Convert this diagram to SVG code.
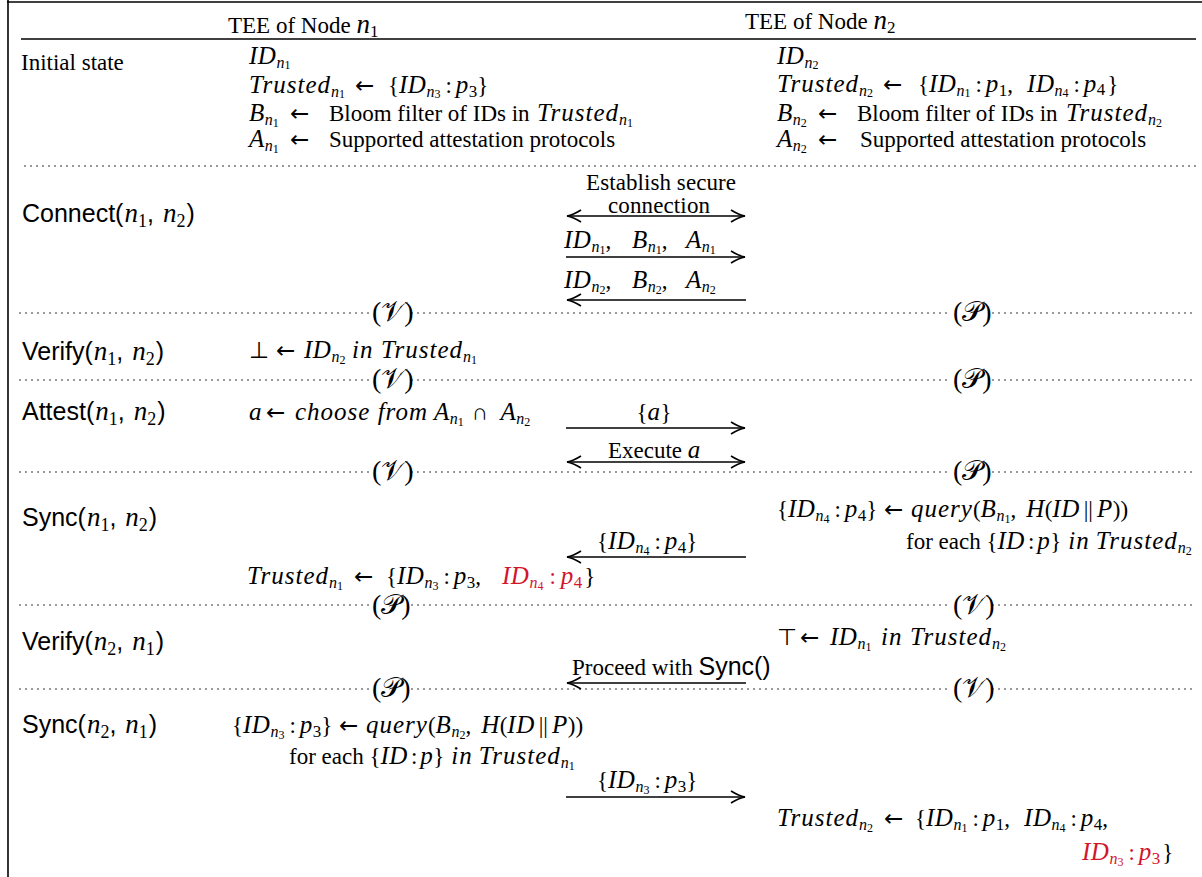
<svg xmlns="http://www.w3.org/2000/svg" width="1202" height="877" viewBox="0 0 1202 877">
<style>
.t{font-family:"Liberation Serif",serif;font-size:23px;fill:#000}
.i{font-style:italic;font-size:25px;letter-spacing:0.5px}
.w{font-style:italic;font-size:25px;letter-spacing:1px}
.si{font-style:italic;font-size:16px;letter-spacing:0}
.ss{font-size:12px;letter-spacing:0}
.d{font-size:17px;letter-spacing:0}
.ar2{font-family:"DejaVu Sans",sans-serif;font-size:23px}
.sf{font-family:"Liberation Sans",sans-serif;font-size:25px;fill:#000}
.mn{font-family:"Liberation Serif",serif;font-style:italic;font-size:27px}
.md{font-family:"Liberation Serif",serif;font-size:18px}
.red{fill:#d3142c}
.rule{stroke:#000;stroke-width:1.6;fill:none}
.dot{stroke:#000;stroke-width:1.5;stroke-dasharray:0 6;stroke-linecap:round;fill:none}
.ar{stroke:#000;stroke-width:1.6;fill:none}
.big{font-family:"Liberation Serif",serif;font-size:28px}
</style>
<defs>
<marker id="ah" markerUnits="userSpaceOnUse" markerWidth="20" markerHeight="20" viewBox="-16 -10 20 20" refX="0" refY="0" orient="auto-start-reverse">
<path d="M-14,-6 Q-6,-1 0,0 Q-6,1 -14,6" stroke="#000" stroke-width="1.6" fill="none"/>
</marker>
</defs>
<g id="frame">
<line class="rule" x1="7" y1="2" x2="1202" y2="2"/>
<line class="rule" x1="8" y1="0" x2="8" y2="877" stroke-width="2"/>
<line class="rule" x1="21" y1="39" x2="1196" y2="39"/>
</g>
<g id="header">
<text class="t" x="228" y="33">TEE of Node <tspan class="mn" font-size="26">n</tspan><tspan dy="4" font-size="17">1</tspan></text>
<text class="t" x="745" y="29">TEE of Node <tspan class="mn" font-size="26">n</tspan><tspan dy="4" font-size="17">2</tspan></text>
</g>
<g id="separators">
<line class="dot" x1="25" y1="166" x2="1196" y2="166"/>
<line class="dot" x1="20" y1="313" x2="370" y2="313"/><line class="dot" x1="412" y1="313" x2="951" y2="313"/><line class="dot" x1="993" y1="313" x2="1196" y2="313"/>
<line class="dot" x1="20" y1="380" x2="370" y2="380"/><line class="dot" x1="412" y1="380" x2="951" y2="380"/><line class="dot" x1="993" y1="380" x2="1196" y2="380"/>
<line class="dot" x1="20" y1="472" x2="370" y2="472"/><line class="dot" x1="412" y1="472" x2="951" y2="472"/><line class="dot" x1="993" y1="472" x2="1196" y2="472"/>
<line class="dot" x1="20" y1="605" x2="370" y2="605"/><line class="dot" x1="412" y1="605" x2="951" y2="605"/><line class="dot" x1="993" y1="605" x2="1196" y2="605"/>
<line class="dot" x1="20" y1="689" x2="370" y2="689"/><line class="dot" x1="412" y1="689" x2="951" y2="689"/><line class="dot" x1="993" y1="689" x2="1196" y2="689"/>
</g>
<g id="roles">
<text class="big" x="372" y="321">(𝒱)</text>
<text class="big" x="953" y="321">(𝒫)</text>
<text class="big" x="372" y="388">(𝒱)</text>
<text class="big" x="953" y="388">(𝒫)</text>
<text class="big" x="372" y="480">(𝒱)</text>
<text class="big" x="953" y="480">(𝒫)</text>
<text class="big" x="372" y="614">(𝒫)</text>
<text class="big" x="953" y="614">(𝒱)</text>
<text class="big" x="372" y="697">(𝒫)</text>
<text class="big" x="953" y="697">(𝒱)</text>
</g>
<g id="row-initial">
<text class="t" x="21" y="70" font-size="22">Initial state</text>
<text class="t" x="249" y="64"><tspan class="i">ID</tspan><tspan class="si" dy="4">n</tspan><tspan class="ss" dy="1">1</tspan></text>
<text class="t" x="249" y="93"><tspan class="w">Trusted</tspan><tspan class="si" dy="4">n</tspan><tspan class="ss" dy="1">1</tspan><tspan class="ar2" x="355" dy="-5">←</tspan><tspan x="388">{</tspan><tspan class="i">ID</tspan><tspan class="si" dy="4">n</tspan><tspan class="ss" dy="1">3</tspan><tspan dy="-5" dx="5">:</tspan><tspan class="i" dx="4">p</tspan><tspan class="d" dy="4">3</tspan><tspan dy="-4">}</tspan></text>
<text class="t" x="249" y="121"><tspan class="i">B</tspan><tspan class="si" dy="4">n</tspan><tspan class="ss" dy="2">1</tspan><tspan class="ar2" x="290" dy="-6">←</tspan><tspan x="329">Bloom filter of IDs in</tspan><tspan class="w" x="537">Trusted</tspan><tspan class="si" dy="4">n</tspan><tspan class="ss" dy="2">1</tspan></text>
<text class="t" x="249" y="147"><tspan class="i">A</tspan><tspan class="si" dy="4">n</tspan><tspan class="ss" dy="2">1</tspan><tspan class="ar2" x="290" dy="-6">←</tspan><tspan x="329">Supported attestation protocols</tspan></text>
<text class="t" x="777" y="64"><tspan class="i">ID</tspan><tspan class="si" dy="4">n</tspan><tspan class="ss" dy="1">2</tspan></text>
<text class="t" x="777" y="92"><tspan class="w">Trusted</tspan><tspan class="si" dy="4">n</tspan><tspan class="ss" dy="1">2</tspan><tspan class="ar2" x="883" dy="-5">←</tspan><tspan x="918">{</tspan><tspan class="i">ID</tspan><tspan class="si" dy="4">n</tspan><tspan class="ss" dy="1">1</tspan><tspan dy="-5" dx="5">:</tspan><tspan class="i" dx="4">p</tspan><tspan class="d" dy="4">1</tspan><tspan dy="-4">,</tspan><tspan class="i" dx="14">ID</tspan><tspan class="si" dy="4">n</tspan><tspan class="ss" dy="1">4</tspan><tspan dy="-5" dx="5">:</tspan><tspan class="i" dx="4">p</tspan><tspan class="d" dy="3">4</tspan><tspan dy="-3" dx="2">}</tspan></text>
<text class="t" x="777" y="121"><tspan class="i">B</tspan><tspan class="si" dy="4">n</tspan><tspan class="ss" dy="2">2</tspan><tspan class="ar2" x="818" dy="-6">←</tspan><tspan x="857">Bloom filter of IDs in</tspan><tspan class="w" x="1066">Trusted</tspan><tspan class="si" dy="4">n</tspan><tspan class="ss" dy="2">2</tspan></text>
<text class="t" x="777" y="147"><tspan class="i">A</tspan><tspan class="si" dy="4">n</tspan><tspan class="ss" dy="2">2</tspan><tspan class="ar2" x="818" dy="-6">←</tspan><tspan x="860">Supported attestation protocols</tspan></text>
</g>
<g id="row-connect">
<text class="sf" x="22" y="222">Connect(<tspan class="mn" dx="1">n</tspan><tspan class="md" dy="5">1</tspan><tspan dy="-5">,</tspan><tspan class="mn" dx="9">n</tspan><tspan class="md" dy="5">2</tspan><tspan dy="-5" dx="1">)</tspan></text>
<text class="t" x="661" y="190" text-anchor="middle" font-size="20" textLength="150">Establish secure</text>
<text class="t" x="659" y="213" text-anchor="middle" font-size="20" textLength="102">connection</text>
<text class="t" x="564" y="248"><tspan class="i">ID</tspan><tspan class="si" dy="4">n</tspan><tspan class="ss" dy="2">1</tspan><tspan dy="-6">,</tspan><tspan class="i" x="632">B</tspan><tspan class="si" dy="4">n</tspan><tspan class="ss" dy="2">1</tspan><tspan dy="-6">,</tspan><tspan class="i" x="686">A</tspan><tspan class="si" dy="4">n</tspan><tspan class="ss" dy="2">1</tspan></text>
<text class="t" x="564" y="288"><tspan class="i">ID</tspan><tspan class="si" dy="4">n</tspan><tspan class="ss" dy="2">2</tspan><tspan dy="-6">,</tspan><tspan class="i" x="632">B</tspan><tspan class="si" dy="4">n</tspan><tspan class="ss" dy="2">2</tspan><tspan dy="-6">,</tspan><tspan class="i" x="686">A</tspan><tspan class="si" dy="4">n</tspan><tspan class="ss" dy="2">2</tspan></text>
</g>
<g id="row-verify1">
<text class="sf" x="22" y="360">Verify(<tspan class="mn" dx="1">n</tspan><tspan class="md" dy="5">1</tspan><tspan dy="-5">,</tspan><tspan class="mn" dx="9">n</tspan><tspan class="md" dy="5">2</tspan><tspan dy="-5" dx="1">)</tspan></text>
<text class="t" x="249" y="358">⊥<tspan class="ar2" x="276">←</tspan><tspan class="i" x="304">ID</tspan><tspan class="si" dy="4">n</tspan><tspan class="ss" dy="2">2</tspan><tspan class="w" x="352" dy="-6">in</tspan><tspan class="w" x="381">Trusted</tspan><tspan class="si" dy="4">n</tspan><tspan class="ss" dy="2">1</tspan></text>
</g>
<g id="row-attest">
<text class="sf" x="22" y="420">Attest(<tspan class="mn" dx="1">n</tspan><tspan class="md" dy="5">1</tspan><tspan dy="-5">,</tspan><tspan class="mn" dx="9">n</tspan><tspan class="md" dy="5">2</tspan><tspan dy="-5" dx="1">)</tspan></text>
<text class="t" x="249" y="420"><tspan class="i">a</tspan><tspan class="ar2" x="266">←</tspan><tspan class="w" x="295">choose from</tspan><tspan class="i" dx="6">A</tspan><tspan class="si" dy="4">n</tspan><tspan class="ss" dy="2">1</tspan><tspan dx="8" dy="-6">∩</tspan><tspan class="i" dx="12">A</tspan><tspan class="si" dy="4">n</tspan><tspan class="ss" dy="2">2</tspan></text>
<text class="t" x="654" y="420" text-anchor="middle">{<tspan class="i">a</tspan>}</text>
<text class="t" x="608" y="458">Execute <tspan class="i">a</tspan></text>
</g>
<g id="row-sync1">
<text class="sf" x="22" y="526">Sync(<tspan class="mn" dx="1">n</tspan><tspan class="md" dy="5">1</tspan><tspan dy="-5">,</tspan><tspan class="mn" dx="9">n</tspan><tspan class="md" dy="5">2</tspan><tspan dy="-5" dx="1">)</tspan></text>
<text class="t" x="777" y="517">{<tspan class="i">ID</tspan><tspan class="si" dy="4">n</tspan><tspan class="ss" dy="2">4</tspan><tspan dy="-6" dx="5">:</tspan><tspan class="i" dx="4">p</tspan><tspan class="d" dy="4">4</tspan><tspan dy="-4">}</tspan><tspan class="ar2" x="884">←</tspan><tspan class="w" x="911">query</tspan>(<tspan class="i">B</tspan><tspan class="si" dy="4">n</tspan><tspan class="ss" dy="2">1</tspan><tspan dy="-6">,</tspan><tspan class="i" dx="10">H</tspan>(<tspan class="i">ID</tspan><tspan dx="4">||</tspan><tspan class="i" dx="4">P</tspan>))</text>
<text class="t" x="906" y="549">for each {<tspan class="i">ID</tspan><tspan dx="3">:</tspan><tspan class="i" dx="3">p</tspan>}<tspan class="w" dx="7">in</tspan><tspan class="w" dx="6">Trusted</tspan><tspan class="si" dy="4">n</tspan><tspan class="ss" dy="2">2</tspan></text>
<text class="t" x="597" y="549">{<tspan class="i">ID</tspan><tspan class="si" dy="4">n</tspan><tspan class="ss" dy="2">4</tspan><tspan dy="-6" dx="5">:</tspan><tspan class="i" dx="4">p</tspan><tspan class="d" dy="4">4</tspan><tspan dy="-4">}</tspan></text>
<text class="t" x="247" y="584"><tspan class="w">Trusted</tspan><tspan class="si" dy="4">n</tspan><tspan class="ss" dy="2">1</tspan><tspan class="ar2" x="354" dy="-6">←</tspan><tspan x="386">{</tspan><tspan class="i">ID</tspan><tspan class="si" dy="4">n</tspan><tspan class="ss" dy="2">3</tspan><tspan dy="-6" dx="5">:</tspan><tspan class="i" dx="4">p</tspan><tspan class="d" dy="4">3</tspan><tspan dy="-4">,</tspan><tspan class="i red" x="502">ID</tspan><tspan class="si red" dy="4">n</tspan><tspan class="ss red" dy="2">4</tspan><tspan class="red" dy="-6" dx="6">:</tspan><tspan class="i red" dx="5">p</tspan><tspan class="d red" dy="4">4</tspan><tspan dy="-4" dx="2">}</tspan></text>
</g>
<g id="row-verify2">
<text class="sf" x="22" y="650">Verify(<tspan class="mn" dx="1">n</tspan><tspan class="md" dy="5">2</tspan><tspan dy="-5">,</tspan><tspan class="mn" dx="9">n</tspan><tspan class="md" dy="5">1</tspan><tspan dy="-5" dx="1">)</tspan></text>
<text class="t" x="777" y="645">⊤<tspan class="ar2" x="800">←</tspan><tspan class="i" x="830">ID</tspan><tspan class="si" dy="4">n</tspan><tspan class="ss" dy="2">1</tspan><tspan class="w" x="881" dy="-6">in</tspan><tspan class="w" x="910">Trusted</tspan><tspan class="si" dy="4">n</tspan><tspan class="ss" dy="2">2</tspan></text>
<text class="t" x="572" y="675">Proceed with <tspan class="sf" font-size="24">Sync()</tspan></text>
</g>
<g id="row-sync2">
<text class="sf" x="22" y="733">Sync(<tspan class="mn" dx="1">n</tspan><tspan class="md" dy="5">2</tspan><tspan dy="-5">,</tspan><tspan class="mn" dx="9">n</tspan><tspan class="md" dy="5">1</tspan><tspan dy="-5" dx="1">)</tspan></text>
<text class="t" x="232" y="733">{<tspan class="i">ID</tspan><tspan class="si" dy="4">n</tspan><tspan class="ss" dy="2">3</tspan><tspan dy="-6" dx="5">:</tspan><tspan class="i" dx="4">p</tspan><tspan class="d" dy="4">3</tspan><tspan dy="-4">}</tspan><tspan class="ar2" x="339">←</tspan><tspan class="w" x="366">query</tspan>(<tspan class="i">B</tspan><tspan class="si" dy="4">n</tspan><tspan class="ss" dy="2">2</tspan><tspan dy="-6">,</tspan><tspan class="i" dx="10">H</tspan>(<tspan class="i">ID</tspan><tspan dx="4">||</tspan><tspan class="i" dx="4">P</tspan>))</text>
<text class="t" x="289" y="764">for each {<tspan class="i">ID</tspan><tspan dx="3">:</tspan><tspan class="i" dx="3">p</tspan>}<tspan class="w" dx="7">in</tspan><tspan class="w" dx="6">Trusted</tspan><tspan class="si" dy="4">n</tspan><tspan class="ss" dy="2">1</tspan></text>
<text class="t" x="597" y="788">{<tspan class="i">ID</tspan><tspan class="si" dy="4">n</tspan><tspan class="ss" dy="2">3</tspan><tspan dy="-6" dx="5">:</tspan><tspan class="i" dx="4">p</tspan><tspan class="d" dy="4">3</tspan><tspan dy="-4">}</tspan></text>
<text class="t" x="777" y="826"><tspan class="w">Trusted</tspan><tspan class="si" dy="4">n</tspan><tspan class="ss" dy="2">2</tspan><tspan class="ar2" x="884" dy="-6">←</tspan><tspan x="915">{</tspan><tspan class="i">ID</tspan><tspan class="si" dy="4">n</tspan><tspan class="ss" dy="2">1</tspan><tspan dy="-6" dx="5">:</tspan><tspan class="i" dx="4">p</tspan><tspan class="d" dy="4">1</tspan><tspan dy="-4">,</tspan><tspan class="i" dx="14">ID</tspan><tspan class="si" dy="4">n</tspan><tspan class="ss" dy="2">4</tspan><tspan dy="-6" dx="5">:</tspan><tspan class="i" dx="4">p</tspan><tspan class="d" dy="4">4</tspan><tspan dy="-4">,</tspan></text>
<text class="t" x="1082" y="860"><tspan class="i red">ID</tspan><tspan class="si red" dy="4">n</tspan><tspan class="ss red" dy="2">3</tspan><tspan class="red" dy="-6" dx="5">:</tspan><tspan class="i red" dx="4">p</tspan><tspan class="d red" dy="4">3</tspan><tspan dy="-4" dx="2">}</tspan></text>
</g>
<g id="connectors">
<line class="ar" x1="567" y1="216" x2="745" y2="216" marker-start="url(#ah)" marker-end="url(#ah)"/>
<line class="ar" x1="566" y1="257" x2="745" y2="257" marker-end="url(#ah)"/>
<line class="ar" x1="746" y1="300" x2="567" y2="300" marker-end="url(#ah)"/>
<line class="ar" x1="566" y1="428" x2="745" y2="428" marker-end="url(#ah)"/>
<line class="ar" x1="567" y1="462" x2="745" y2="462" marker-start="url(#ah)" marker-end="url(#ah)"/>
<line class="ar" x1="746" y1="557" x2="567" y2="557" marker-end="url(#ah)"/>
<line class="ar" x1="746" y1="683" x2="567" y2="683" marker-end="url(#ah)"/>
<line class="ar" x1="566" y1="797" x2="745" y2="797" marker-end="url(#ah)"/>
</g>
</svg>
